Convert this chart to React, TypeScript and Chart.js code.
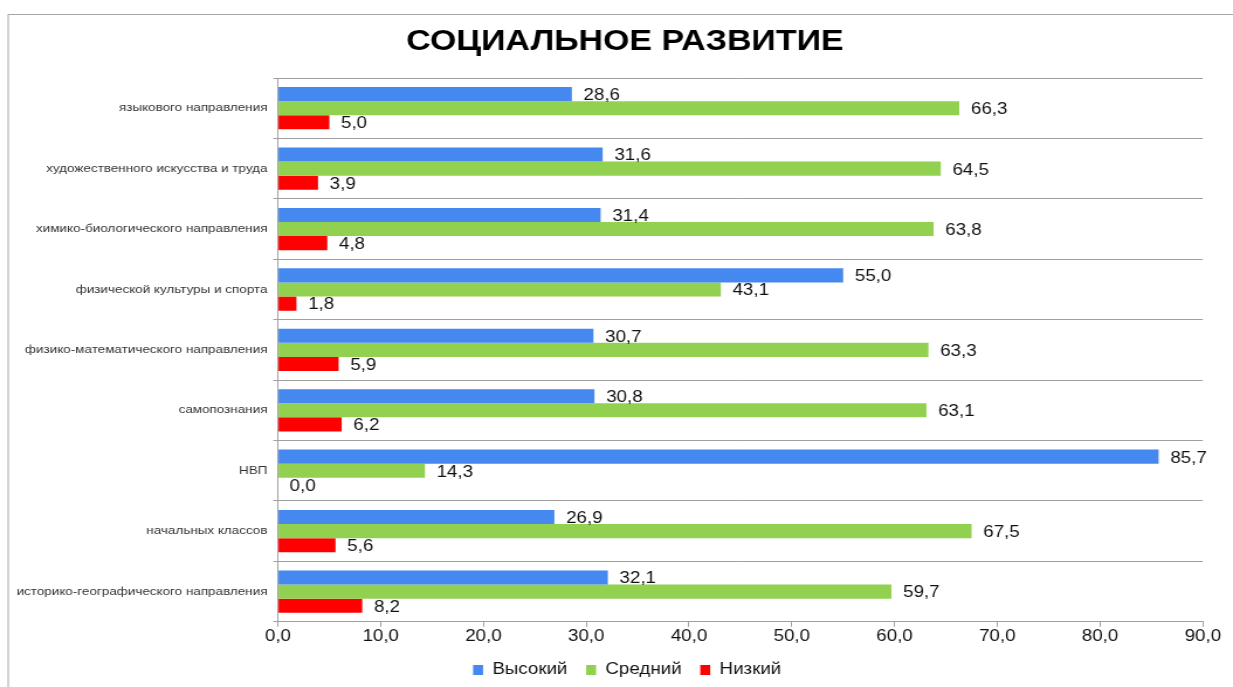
import React, { useEffect, useRef } from "react";
import { Chart, registerables } from "chart.js";

Chart.register(...registerables);

const categories = [
  "языкового направления",
  "художественного искусства и труда",
  "химико-биологического направления",
  "физической культуры и спорта",
  "физико-математического направления",
  "самопознания",
  "НВП",
  "начальных классов",
  "историко-географического направления",
];

const highValues = [28.6, 31.6, 31.4, 55.0, 30.7, 30.8, 85.7, 26.9, 32.1];
const midValues = [66.3, 64.5, 63.8, 43.1, 63.3, 63.1, 14.3, 67.5, 59.7];
const lowValues = [5.0, 3.9, 4.8, 1.8, 5.9, 6.2, 0.0, 5.6, 8.2];

const seriesNames = ["Высокий", "Средний", "Низкий"];
const seriesColors = ["#4488f0", "#92d050", "#ff0000"];

const titleText = "СОЦИАЛЬНОЕ РАЗВИТИЕ";
const FONT = 'Arial, "Liberation Sans", sans-serif';

// the reference is horizontally stretched; draw narrower and stretch via CSS
const STRETCH = 1.17;
const SCREEN_W = 1233;
const SCREEN_H = 687;
const W = Math.round(SCREEN_W / STRETCH);
const H = 688;

const fmt = (v: number) => v.toFixed(1).replace(".", ",");

const framePlugin = {
  id: "frame",
  beforeDraw(chart: any) {
    const ctx = chart.ctx;
    ctx.save();
    ctx.strokeStyle = "#a6a6a6";
    ctx.lineWidth = 1;
    ctx.strokeRect(7, 14.5, 2000, 1000);
    ctx.restore();
  },
};

const titlePlugin = {
  id: "customTitle",
  afterDraw(chart: any) {
    const ctx = chart.ctx;
    ctx.save();
    ctx.font = `bold 29px ${FONT}`;
    ctx.fillStyle = "#000";
    ctx.textAlign = "center";
    ctx.textBaseline = "middle";
    ctx.fillText(titleText, 625 / STRETCH, 42);
    ctx.restore();
  },
};

const legendShiftPlugin = {
  id: "legendShift",
  afterLayout(chart: any) {
    const lg = chart.legend;
    if (!lg) return;
    const shift = 22;
    lg.left += shift;
    lg.right += shift;
  },
};

const valueLabelPlugin = {
  id: "valueLabels",
  afterDatasetsDraw(chart: any) {
    const ctx = chart.ctx;
    ctx.save();
    ctx.font = `16px ${FONT}`;
    ctx.fillStyle = "#111";
    ctx.textAlign = "left";
    ctx.textBaseline = "middle";
    chart.data.datasets.forEach((ds: any, di: number) => {
      const meta = chart.getDatasetMeta(di);
      meta.data.forEach((el: any, i: number) => {
        const v = ds.data[i] as number;
        ctx.fillText(fmt(v), el.x + 10, el.y + 1.5);
      });
    });
    ctx.restore();
  },
};

export default function App() {
  const ref = useRef<HTMLCanvasElement | null>(null);

  useEffect(() => {
    if (!ref.current) return;
    const plotLeft = 278 / STRETCH;
    const plotRight = 1203 / STRETCH;
    const chart = new Chart(ref.current, {
      type: "bar",
      data: {
        labels: categories,
        datasets: [highValues, midValues, lowValues].map((d, i) => ({
          label: seriesNames[i],
          data: d,
          backgroundColor: seriesColors[i],
          borderWidth: 0,
          categoryPercentage: 0.7,
          barPercentage: 1.0,
        })),
      },
      options: {
        indexAxis: "y",
        animation: false,
        responsive: false,
        maintainAspectRatio: false,
        devicePixelRatio: 1,
        layout: { padding: { left: 0, right: W - plotRight, top: 78, bottom: 0 } },
        scales: {
          x: {
            min: 0,
            max: 90,
            ticks: {
              stepSize: 10,
              callback: (v: any) => fmt(Number(v)),
              font: { family: FONT, size: 16 },
              color: "#111",
              padding: 0,
            },
            grid: {
              drawOnChartArea: false,
              drawTicks: true,
              tickLength: 5,
              color: "#a0a0a0",
            },
            border: { color: "#a0a0a0" },
          },
          y: {
            afterFit: (scale: any) => {
              scale.width = plotLeft;
            },
            ticks: {
              font: { family: FONT, size: 11.5 },
              color: "#333",
              padding: 5,
            },
            grid: {
              offset: true,
              color: "#a0a0a0",
              tickLength: 4,
            },
            border: { color: "#a0a0a0" },
          },
        },
        plugins: {
          title: { display: false },
          legend: {
            position: "bottom",
            labels: {
              boxWidth: 8.5,
              boxHeight: 10,
              padding: 16,
              font: { family: FONT, size: 16 },
              color: "#111",
            },
          },
          tooltip: { enabled: false },
        },
      },
      plugins: [framePlugin, valueLabelPlugin, titlePlugin, legendShiftPlugin],
    } as any);
    return () => chart.destroy();
  }, []);

  return (
    <div
      style={{
        position: "absolute",
        left: 0,
        top: 0,
        width: SCREEN_W,
        height: SCREEN_H,
        overflow: "hidden",
        background: "#fff",
      }}
    >
      <canvas
        ref={ref}
        width={W}
        height={H}
        style={{ display: "block", width: SCREEN_W + "px", height: H + "px" }}
      />
    </div>
  );
}
